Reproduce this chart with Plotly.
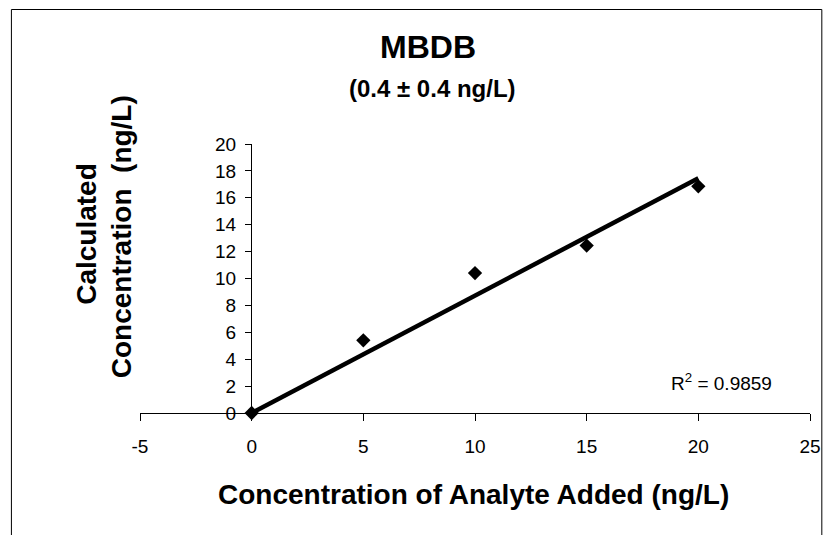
import numpy as np
import plotly.graph_objects as go

# Spiked concentration vs. calculated concentration (ng/L)
added = [0, 5, 10, 15, 20]
calculated = [0, 5.4, 10.4, 12.45, 16.85]

x_ticks = [-5, 0, 5, 10, 15, 20, 25]
x_tick_text = ["-5", "0", "5", "10", "15", "20", "25"]
y_ticks = [0, 2, 4, 6, 8, 10, 12, 14, 16, 18, 20]

title_text = "MBDB"
subtitle_text = "(0.4 ± 0.4 ng/L)"
x_title = "Concentration of Analyte Added (ng/L)"
y_title_1 = "Calculated"
y_title_2 = "Concentration\u00a0\u00a0(ng/L)"
r2_text = "R<sup>2</sup> = 0.9859"

FONT = "Liberation Sans, Arial, sans-serif"
W, H = 833, 535
L, R, T, B = 140, 13, 144, 122
PW, PH = W - L - R, H - T - B


def px(xp):
    return (xp - L) / PW


def py(yp):
    return (H - B - yp) / PH


# Linear trendline forced through the origin
xa = np.array(added, dtype=float)
ya = np.array(calculated, dtype=float)
slope = float((xa * ya).sum() / (xa * xa).sum())
fit_x = [xa.min(), xa.max()]
fit_y = [slope * v for v in fit_x]

fig = go.Figure()
fig.add_trace(go.Scatter(
    x=added, y=calculated, mode="markers",
    marker=dict(symbol="diamond", size=11, color="black"),
    cliponaxis=False, showlegend=False,
))
fig.add_trace(go.Scatter(
    x=fit_x, y=fit_y, mode="lines",
    line=dict(color="black", width=4.5),
    cliponaxis=False, showlegend=False,
))

fig.update_layout(
    width=W, height=H,
    margin=dict(l=L, r=R, t=T, b=B, pad=0),
    paper_bgcolor="white", plot_bgcolor="white",
    font=dict(family=FONT, color="black"),
    xaxis=dict(
        range=[-5, 25], tickvals=x_ticks, ticktext=x_tick_text,
        showline=True, linecolor="black", linewidth=1,
        ticks="outside", ticklen=7, tickcolor="black", tickwidth=1,
        showgrid=False, zeroline=False,
        tickfont=dict(family=FONT, size=19, color="black"),
        ticklabelstandoff=9,
    ),
    yaxis=dict(
        range=[0, 20], tickvals=y_ticks,
        anchor="free", position=px(252.5), side="left",
        showline=True, linecolor="black", linewidth=1,
        ticks="outside", ticklen=6, tickcolor="black", tickwidth=1,
        showgrid=False, zeroline=False,
        tickfont=dict(family=FONT, size=19, color="black"),
        ticklabelstandoff=5,
    ),
)

annots = [
    dict(text=title_text, x=px(432), y=py(47), size=32, bold=True, angle=0),
    dict(text=subtitle_text, x=px(437), y=py(88), size=24, bold=True, angle=0),
    dict(text=x_title, x=px(478), y=py(494), size=28, bold=True, angle=0),
    dict(text=y_title_1, x=px(85), y=py(234), size=28, bold=True, angle=-90),
    dict(text=y_title_2, x=px(121), y=py(237), size=28, bold=True, angle=-90),
    dict(text=r2_text, x=px(730), y=py(382), size=19, bold=False, angle=0),
]
for a in annots:
    fig.add_annotation(
        text=a["text"], x=a["x"], y=a["y"], xref="paper", yref="paper",
        xanchor="center", yanchor="middle", showarrow=False,
        textangle=a["angle"],
        font=dict(family=FONT, size=a["size"], color="black",
                  weight="bold" if a["bold"] else "normal"),
    )

# Chart frame
fig.add_shape(
    type="rect", xref="paper", yref="paper",
    x0=px(9.5), x1=px(832), y0=py(560), y1=py(9.5),
    line=dict(color="black", width=1), fillcolor="rgba(0,0,0,0)",
    layer="below",
)

fig.write_html("out.html")
